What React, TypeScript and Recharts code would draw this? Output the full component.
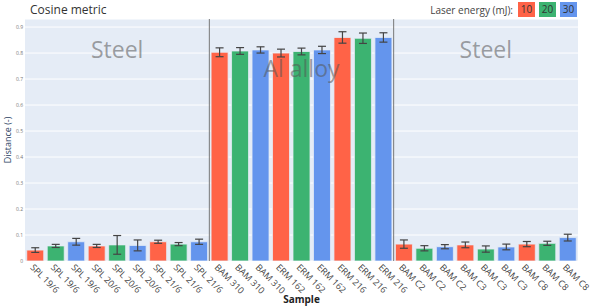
import React from "react";
import {
  BarChart,
  Bar,
  XAxis,
  YAxis,
  CartesianGrid,
  ErrorBar,
  Cell,
  ReferenceLine,
  ReferenceDot,
} from "recharts";

const categories = [
  "SPL 19/6", "SPL 19/6", "SPL 19/6",
  "SPL 20/6", "SPL 20/6", "SPL 20/6",
  "SPL 21/6", "SPL 21/6", "SPL 21/6",
  "BAM 310", "BAM 310", "BAM 310",
  "ERM 162", "ERM 162", "ERM 162",
  "ERM 216", "ERM 216", "ERM 216",
  "BAM C2", "BAM C2", "BAM C2",
  "BAM C3", "BAM C3", "BAM C3",
  "BAM C8", "BAM C8", "BAM C8",
];

const energies = [
  10, 20, 30, 10, 20, 30, 10, 20, 30,
  10, 20, 30, 10, 20, 30, 10, 20, 30,
  10, 20, 30, 10, 20, 30, 10, 20, 30,
];

const distance = [
  0.042, 0.058, 0.074, 0.058, 0.062, 0.06, 0.074, 0.065, 0.074,
  0.803, 0.808, 0.812, 0.8, 0.806, 0.812, 0.86, 0.857, 0.86,
  0.065, 0.049, 0.055, 0.062, 0.046, 0.054, 0.065, 0.068, 0.09,
];

const errors = [
  0.009, 0.006, 0.013, 0.006, 0.036, 0.021, 0.006, 0.006, 0.01,
  0.017, 0.013, 0.012, 0.015, 0.013, 0.014, 0.022, 0.02, 0.018,
  0.016, 0.01, 0.008, 0.011, 0.012, 0.011, 0.01, 0.008, 0.013,
];

const legendEnergies = [10, 20, 30];
const yTicks = [0, 0.1, 0.2, 0.3, 0.4, 0.5, 0.6, 0.7, 0.8, 0.9];

// group separators after these category indices
const separators = [8, 17];

const annotations = [
  { text: "Steel", at: 4, y: 0.812 },
  { text: "Al alloy", at: 13, y: 0.739 },
  { text: "Steel", at: 22, y: 0.812 },
];

const colorOf: Record<number, string> = {
  10: "#FF6347",
  20: "#3CB371",
  30: "#6495ED",
};

const FONT = "'Open Sans', 'Noto Sans', sans-serif";

const data = categories.map((c, i) => ({
  id: `c${i}`,
  label: c,
  energy: energies[i],
  value: distance[i],
  err: errors[i],
}));

const XTick = (props: any) => {
  const { x, y, payload } = props;
  const idx = Number(String(payload.value).slice(1));
  const tx = x - 5.5;
  const ty = y + 7;
  return (
    <text
      x={tx}
      y={ty}
      transform={`rotate(45, ${tx}, ${ty})`}
      textAnchor="start"
      fontSize={9}
      fontFamily={FONT}
      fill="#444"
    >
      {categories[idx]}
    </text>
  );
};

export default function App() {
  return (
    <div
      style={{
        position: "absolute",
        left: 0,
        top: 0,
        width: 591,
        height: 308,
        background: "#fff",
        fontFamily: FONT,
      }}
    >
      <div
        style={{
          position: "absolute",
          left: 30,
          top: 2,
          fontSize: 12,
          color: "#333",
          lineHeight: "16px",
        }}
      >
        Cosine metric
      </div>
      <div
        style={{
          position: "absolute",
          right: 14,
          top: 2,
          display: "flex",
          alignItems: "center",
          fontSize: 10,
          color: "#444",
          zIndex: 2,
        }}
      >
        <span style={{ marginRight: 5 }}>Laser energy (mJ):</span>
        {legendEnergies.map((e, i) => (
          <span
            key={e}
            style={{
              display: "inline-block",
              width: 17,
              height: 15,
              lineHeight: "15px",
              textAlign: "center",
              background: colorOf[e],
              color: "#333",
              marginLeft: i === 0 ? 0 : 4,
            }}
          >
            {e}
          </span>
        ))}
      </div>
      <BarChart
        width={591}
        height={308}
        data={data}
        margin={{ top: 19, right: 13, bottom: 0, left: 5 }}
        barCategoryGap="8.5%"
      >
        <CartesianGrid
          vertical={false}
          stroke="#ffffff"
          strokeWidth={1}
          fill="#E5ECF6"
        />
        <XAxis
          dataKey="id"
          type="category"
          height={47}
          tickLine={false}
          axisLine={false}
          tickSize={0}
          tickMargin={0}
          interval={0}
          tick={<XTick />}
          label={{
            value: "Sample",
            position: "insideBottom",
            offset: 5,
            fontSize: 10,
            fontWeight: "bold",
            fill: "#222",
            fontFamily: FONT,
          }}
        />
        <YAxis
          width={20}
          domain={[0, 0.931]}
          ticks={yTicks}
          allowDataOverflow
          tickLine={false}
          axisLine={false}
          tickSize={0}
          tickMargin={2}
          tick={{ fontSize: 5, fill: "#777", fontFamily: FONT }}
          label={{
            value: "Distance (-)",
            angle: -90,
            position: "center",
            dx: -7,
            fontSize: 9,
            fill: "#2a3f5f",
            fontFamily: FONT,
          }}
        />
        {separators.map((s) => (
          <ReferenceLine
            key={s}
            x={`c${s}`}
            position="end"
            stroke="#777"
            strokeWidth={1}
          />
        ))}
        <Bar
          dataKey="value"
          isAnimationActive={false}
          stroke="#E5ECF6"
          strokeWidth={0.8}
        >
          {data.map((d) => (
            <Cell key={d.id} fill={colorOf[d.energy]} />
          ))}
          <ErrorBar
            dataKey="err"
            direction="y"
            width={4}
            stroke="#444"
            strokeWidth={1.2}
          />
        </Bar>
        {annotations.map((a, i) => (
          <ReferenceDot
            key={i}
            x={`c${a.at}`}
            y={a.y}
            r={0}
            fill="none"
            stroke="none"
            label={{
              value: a.text,
              position: "center",
              fontSize: 23,
              fill: "rgba(85,85,85,0.55)",
              fontFamily: FONT,
            }}
          />
        ))}
      </BarChart>
    </div>
  );
}
